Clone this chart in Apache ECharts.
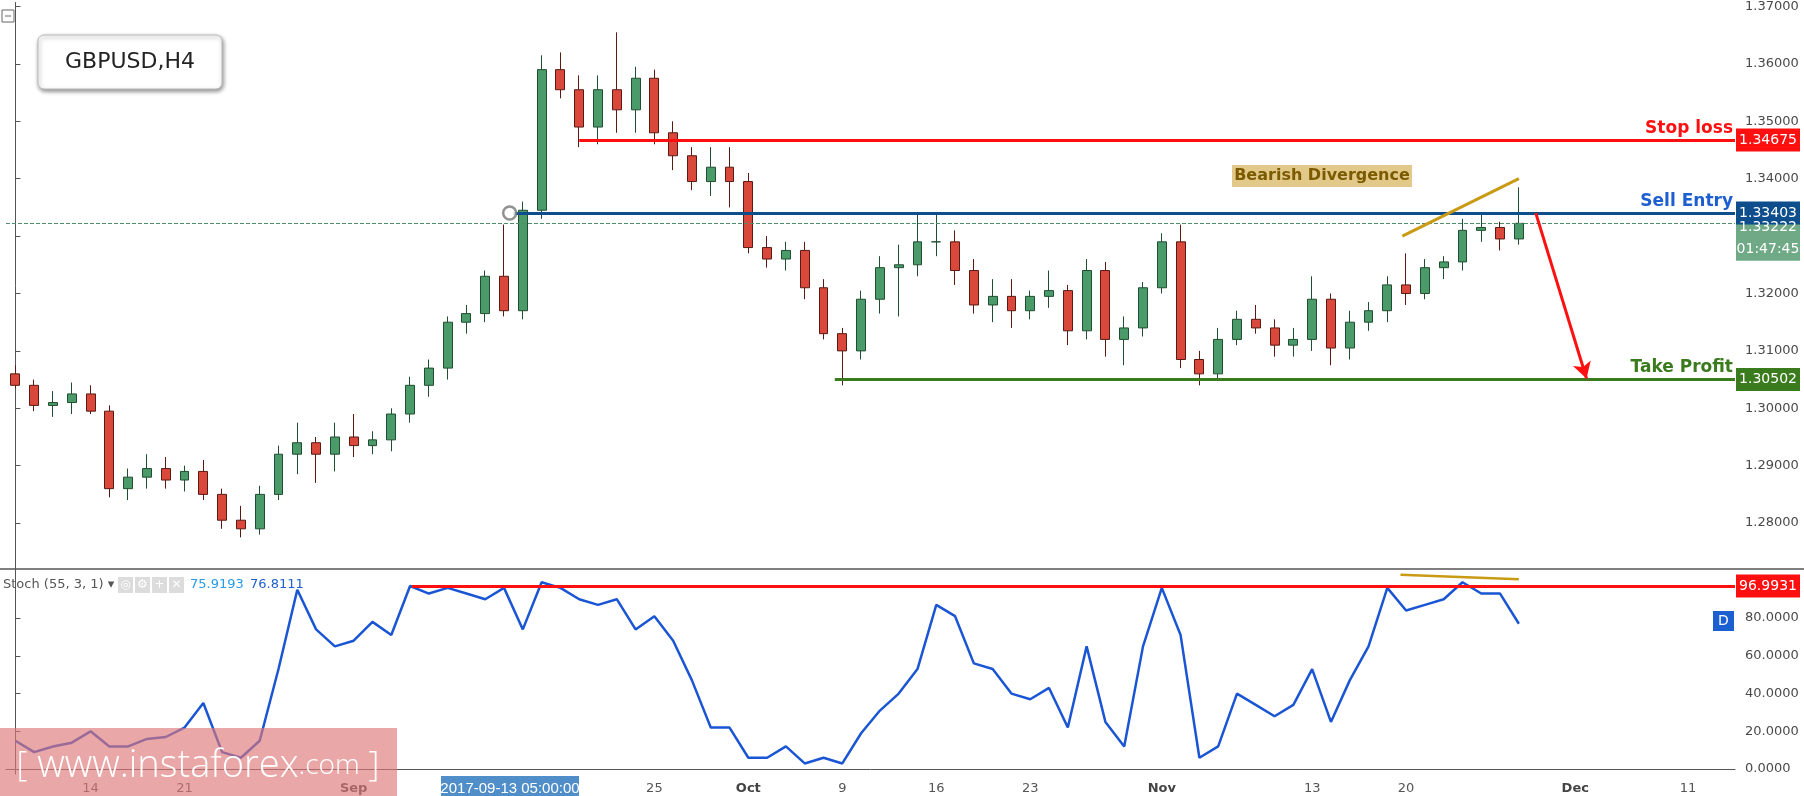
<!DOCTYPE html>
<html><head><meta charset="utf-8">
<script src="https://cdn.jsdelivr.net/npm/echarts@6/dist/echarts.min.js"></script>
<style>html,body{margin:0;padding:0;background:#fff}#c{width:1804px;height:796px}</style>
</head><body><div id="c"></div>
<script>
const dates = ['08-08','08-09','08-10','08-11','08-14','08-15','08-16','08-17','08-18','08-21','08-22','08-23','08-24','08-25','08-28','08-29','08-30','08-31',
'09-01','09-04','09-05','09-06','09-07','09-08','09-11','09-12','09-13','09-14','09-15','09-18','09-19','09-20','09-21','09-22','09-25','09-26','09-27','09-28','09-29',
'10-02','10-03','10-04','10-05','10-06','10-09','10-10','10-11','10-12','10-13','10-16','10-17','10-18','10-19','10-20','10-23','10-24','10-25','10-26','10-27','10-30','10-31',
'11-01','11-02','11-03','11-06','11-07','11-08','11-09','11-10','11-13','11-14','11-15','11-16','11-17','11-20','11-21','11-22','11-23','11-24','11-27','11-28','11-29','11-30',
'12-01','12-04','12-05','12-06','12-07','12-08','12-11','12-12','12-13'];
// [open, close, low, high]
const ohlc = [
[1.3060,1.3040,1.3035,1.3075],[1.3040,1.3005,1.2995,1.3050],[1.3005,1.3010,1.2985,1.3030],[1.3010,1.3025,1.2990,1.3045],
[1.3025,1.2995,1.2990,1.3040],[1.2995,1.2860,1.2845,1.3005],[1.2860,1.2880,1.2840,1.2895],[1.2880,1.2895,1.2860,1.2920],
[1.2895,1.2875,1.2860,1.2915],[1.2875,1.2890,1.2855,1.2900],[1.2890,1.2850,1.2840,1.2910],[1.2850,1.2805,1.2790,1.2860],
[1.2805,1.2790,1.2775,1.2830],[1.2790,1.2850,1.2780,1.2865],[1.2850,1.2920,1.2840,1.2935],[1.2920,1.2940,1.2885,1.2975],
[1.2940,1.2920,1.2870,1.2950],[1.2920,1.2950,1.2890,1.2975],[1.2950,1.2935,1.2915,1.2990],[1.2935,1.2945,1.2920,1.2960],
[1.2945,1.2990,1.2925,1.3000],[1.2990,1.3040,1.2975,1.3055],[1.3040,1.3070,1.3020,1.3085],[1.3070,1.3150,1.3050,1.3160],
[1.3150,1.3165,1.3130,1.3180],[1.3165,1.3230,1.3150,1.3240],[1.3230,1.3170,1.3160,1.3320],[1.3170,1.3345,1.3155,1.3360],
[1.3345,1.3590,1.3330,1.3615],[1.3590,1.3555,1.3540,1.3620],[1.3555,1.3490,1.3455,1.3580],[1.3490,1.3555,1.3460,1.3580],
[1.3555,1.3520,1.3480,1.3655],[1.3520,1.3575,1.3480,1.3595],[1.3575,1.3480,1.3460,1.3590],[1.3480,1.3440,1.3415,1.3500],
[1.3440,1.3395,1.3380,1.3455],[1.3395,1.3420,1.3370,1.3455],[1.3420,1.3395,1.3350,1.3455],
[1.3395,1.3280,1.3270,1.3410],[1.3280,1.3260,1.3245,1.3300],[1.3260,1.3275,1.3240,1.3290],[1.3275,1.3210,1.3190,1.3290],
[1.3210,1.3130,1.3120,1.3225],[1.3130,1.3100,1.3040,1.3140],[1.3100,1.3190,1.3085,1.3205],[1.3190,1.3245,1.3165,1.3265],
[1.3245,1.3250,1.3160,1.3285],[1.3250,1.3290,1.3230,1.3340],[1.3290,1.3290,1.3265,1.3340],[1.3290,1.3240,1.3215,1.3310],
[1.3240,1.3180,1.3165,1.3260],[1.3180,1.3195,1.3150,1.3225],[1.3195,1.3170,1.3140,1.3225],[1.3170,1.3195,1.3155,1.3205],
[1.3195,1.3205,1.3175,1.3240],[1.3205,1.3135,1.3110,1.3215],[1.3135,1.3240,1.3120,1.3260],[1.3240,1.3120,1.3090,1.3255],
[1.3120,1.3140,1.3075,1.3160],[1.3140,1.3210,1.3125,1.3220],
[1.3210,1.3290,1.3200,1.3305],[1.3290,1.3085,1.3070,1.3320],[1.3085,1.3060,1.3040,1.3100],[1.3060,1.3120,1.3050,1.3140],
[1.3120,1.3155,1.3110,1.3170],[1.3155,1.3140,1.3130,1.3180],[1.3140,1.3110,1.3090,1.3155],[1.3110,1.3120,1.3090,1.3140],
[1.3120,1.3190,1.3100,1.3230],[1.3190,1.3105,1.3075,1.3200],[1.3105,1.3150,1.3085,1.3170],[1.3150,1.3170,1.3135,1.3185],
[1.3170,1.3215,1.3150,1.3230],[1.3215,1.3200,1.3180,1.3270],[1.3200,1.3245,1.3190,1.3260],[1.3245,1.3255,1.3225,1.3265],
[1.3255,1.3310,1.3240,1.3330],[1.3310,1.3315,1.3290,1.3340],[1.3315,1.3295,1.3275,1.3325],[1.3295,1.33222,1.3285,1.3385]
];
const stoch = [15,9,12,14,20,12,12,16,17,22,35,9,6,15,53,95,74,65,68,78,71,97,93,96,93,90,96,74,99,96,90,87,90,74,81,68,47,22,22,
6,6,12,3,6,3,19,31,40,53,87,81,56,53,40,37,43,22,65,25,12,65,96,71,6,12,40,34,28,34,53,25,47,65,96,84,87,90,99,93,93,77];
const priceTicks = [1.28,1.29,1.30,1.31,1.32,1.33,1.34,1.35,1.36,1.37];
const stochTicks = [0,20,40,60,80];
const xLabels = {'08-14':'14','08-21':'21','09-01':'Sep','09-11':'11','09-18':'18','09-25':'25','10-02':'Oct','10-09':'9','10-16':'16','10-23':'23','11-01':'Nov','11-13':'13','11-20':'20','12-01':'Dec','12-11':'11'};
const levels = {stop:1.34675, entry:1.33403, take:1.30502, last:1.33222, stochTop:96.9931};

const N = dates.length;
const chart = echarts.init(document.getElementById('c'));
const F = 'DejaVu Sans';
const axisTxt = {color:'#4a4a4a', fontFamily:F, fontSize:13};
const isLab = (i)=> xLabels[dates[i]] !== undefined;
const months = ['Sep','Oct','Nov','Dec'];
const hiddenX = (g)=>({type:'value', gridIndex:g, min:-0.5, max:N-0.5, show:false});
function seg(x1,y1,x2,y2,color,width,label,type){
  return [{coord:[x1,y1],lineStyle:{color:color,width:width,type:type||'solid'},label:label||{show:false}},{coord:[x2,y2]}];
}
const lblStyle=(text,color)=>({show:true,formatter:text,position:'insideEndTop',color:color,fontFamily:F,fontWeight:'bold',fontSize:17,distance:[2,3]});
chart.setOption({
  animation:false,
  grid:[{left:6,width:1729,top:0,height:569},{left:6,width:1729,top:569,height:205}],
  xAxis:[
    {type:'category',gridIndex:0,data:dates,show:false},
    {type:'category',gridIndex:1,data:dates,axisLine:{lineStyle:{color:'#555'}},
      axisTick:{interval:(i)=>isLab(i),lineStyle:{color:'#555'},length:5},
      axisLabel:{interval:(i)=>isLab(i),formatter:(v)=>{const t=xLabels[v]||'';return months.includes(t)?'{m|'+t+'}':t;},
        rich:{m:{fontWeight:'bold',color:'#444',fontFamily:F,fontSize:13}},color:'#555',fontFamily:F,fontSize:13,margin:8}},
    hiddenX(0),hiddenX(1)
  ],
  yAxis:[
    {type:'value',gridIndex:0,position:'right',min:1.2720,max:1.3707,splitLine:{show:false},
      axisLine:{show:true,lineStyle:{color:'#555'}},axisTick:{show:true,customValues:priceTicks,length:5},
      axisLabel:Object.assign({customValues:priceTicks,formatter:(v)=>v.toFixed(5),margin:10},axisTxt)},
    {type:'value',gridIndex:1,position:'right',min:-2.6,max:106,splitLine:{show:false},
      axisLine:{show:true,lineStyle:{color:'#555'}},axisTick:{show:true,customValues:stochTicks,length:5},
      axisLabel:Object.assign({customValues:stochTicks,formatter:(v)=>v.toFixed(4),margin:10},axisTxt)}
  ],
  series:[
    {type:'candlestick',xAxisIndex:0,yAxisIndex:0,data:ohlc,barWidth:'50%',
      itemStyle:{color:'#4a9a6a',color0:'#d9483b',borderColor:'#1f4f30',borderColor0:'#5a1a12',borderWidth:1}},
    {type:'line',xAxisIndex:2,yAxisIndex:0,data:[],markLine:{silent:true,symbol:['none','none'],animation:false,
      data:[
        seg(-0.5,levels.last,N-0.5,levels.last,'#4e8f6a',1,null,'dashed'),
        seg(30,levels.stop,N-0.5,levels.stop,'#ff1010',3,lblStyle('Stop loss','#ff1010')),
        seg(26.5,levels.entry,N-0.5,levels.entry,'#0f4e8c',3,lblStyle('Sell Entry','#1d5fd0')),
        seg(43.6,levels.take,N-0.5,levels.take,'#3a7b1e',3,lblStyle('Take Profit','#3a7b1e')),
        seg(73.8,1.3300,80,1.3400,'#c99a14',3),
        [{coord:[80.9,1.3340],symbol:'none',lineStyle:{color:'#ff1010',width:3,type:'solid'},label:{show:false}},{coord:[83.6,1.3052],symbol:'arrow',symbolSize:[14,16]}]
      ]}},
    {type:'scatter',xAxisIndex:2,yAxisIndex:0,data:[[26.3,levels.entry]],symbol:'circle',symbolSize:13,
      itemStyle:{color:'#fff',borderColor:'#777',borderWidth:2.5},z:5},
    {type:'line',xAxisIndex:1,yAxisIndex:1,data:stoch,showSymbol:false,lineStyle:{color:'#1a55d4',width:2.5},z:4},
    {type:'line',xAxisIndex:3,yAxisIndex:1,data:[],markLine:{silent:true,symbol:['none','none'],
      data:[seg(21.1,levels.stochTop,N-0.5,levels.stochTop,'#ff1010',3),seg(73.7,103,80,100.6,'#c99a14',2.5)]}}
  ]
});

const g=[];
function pxY(idx,v){return chart.convertToPixel({yAxisIndex:idx},v);}
function box(y,text,bg,h){
  h=h||23;
  g.push({type:'rect',shape:{x:1736,y:y-h/2,width:64,height:h},style:{fill:bg},z:50});
  g.push({type:'text',x:1768,y:y,style:{text:text,fill:'#fff',font:'14px "DejaVu Sans"',align:'center',verticalAlign:'middle'},z:51});
}
box(pxY(0,levels.stop),'1.34675','#ff1010');
box(pxY(0,levels.last)+4,'1.33222','#6fa985');
box(pxY(0,levels.last)+26,'01:47:45','#6fa985');
box(pxY(0,levels.entry),'1.33403','#0f4e8c');
box(pxY(0,levels.take),'1.30502','#3a7b1e');
box(pxY(1,levels.stochTop),'96.9931','#ff1010');
g.push({type:'line',shape:{x1:0,y1:569,x2:1804,y2:569},style:{stroke:'#555',lineWidth:1.5},z:40});
g.push({type:'rect',shape:{x:1713,y:611,width:21,height:20},style:{fill:'#1c5fd0'},z:50});
g.push({type:'text',x:1723.5,y:621,style:{text:'D',fill:'#fff',font:'14px "DejaVu Sans"',align:'center',verticalAlign:'middle'},z:51});
g.push({type:'rect',shape:{x:38,y:35,width:184,height:54,r:6},style:{fill:'#fff',stroke:'#bbb',lineWidth:1,shadowBlur:4,shadowColor:'rgba(0,0,0,0.45)',shadowOffsetX:1,shadowOffsetY:2},z:50});
g.push({type:'text',x:130,y:62,style:{text:'GBPUSD,H4',fill:'#222',font:'22px "DejaVu Sans"',align:'center',verticalAlign:'middle'},z:51});
g.push({type:'rect',shape:{x:2,y:10,width:12,height:12},style:{fill:'#fff',stroke:'#666',lineWidth:1},z:50});
g.push({type:'line',shape:{x1:5,y1:16,x2:11,y2:16},style:{stroke:'#666',lineWidth:1},z:51});
g.push({type:'rect',shape:{x:1232,y:165,width:180,height:22},style:{fill:'#e2c98a'},z:50});
g.push({type:'text',x:1322,y:176,style:{text:'Bearish Divergence',fill:'#7b5a00',font:'bold 16px "DejaVu Sans"',align:'center',verticalAlign:'middle'},z:51});
g.push({type:'text',x:3,y:585,style:{text:'Stoch (55, 3, 1) ▾',fill:'#555',font:'13px "DejaVu Sans"',verticalAlign:'middle'},z:51});
[118,135,152,169].forEach((x,i)=>{g.push({type:'rect',shape:{x:x,y:577,width:15,height:16},style:{fill:'#dcdcdc'},z:50});
 g.push({type:'text',x:x+7.5,y:585,style:{text:['◎','⚙','+','✕'][i],fill:'#fff',font:'12px "DejaVu Sans"',align:'center',verticalAlign:'middle'},z:51});});
g.push({type:'text',x:190,y:585,style:{text:'75.9193',fill:'#2a9be8',font:'13px "DejaVu Sans"',verticalAlign:'middle'},z:51});
g.push({type:'text',x:250,y:585,style:{text:'76.8111',fill:'#2160cf',font:'13px "DejaVu Sans"',verticalAlign:'middle'},z:51});
g.push({type:'rect',shape:{x:0,y:728,width:397,height:74},style:{fill:'rgba(222,120,120,0.65)'},z:60});
g.push({type:'text',x:198,y:766,style:{text:'{b|[}{a| www.instaforex}{c|.com}{b| ]}',rich:{a:{fill:'#fff',font:'300 38px "Open Sans"'},c:{fill:'#fff',font:'300 28px "Open Sans"'},b:{fill:'#fff',font:'300 34px "Open Sans"'}},align:'center',verticalAlign:'middle'},z:61});
g.push({type:'rect',shape:{x:441,y:776,width:138,height:26},style:{fill:'#4f8ec9'},z:60});
g.push({type:'text',x:510,y:789,style:{text:'2017-09-13 05:00:00',fill:'#fff',font:'15px "Liberation Sans"',align:'center',verticalAlign:'middle'},z:61});
chart.setOption({graphic:g});
</script></body></html>
